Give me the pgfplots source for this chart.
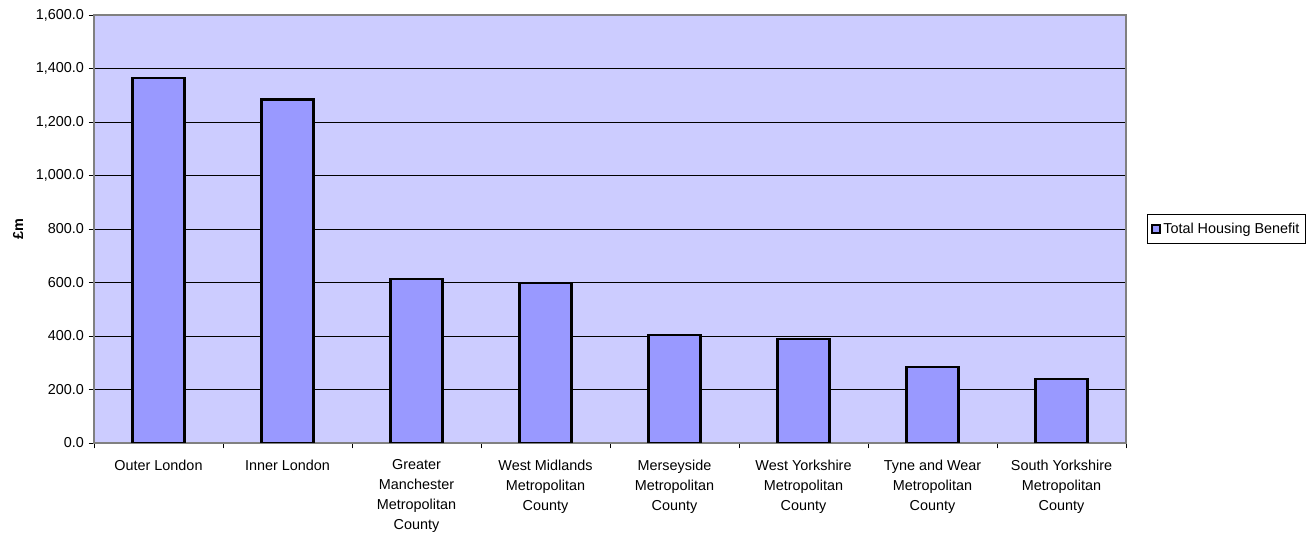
\documentclass[border=0pt]{standalone}
\usepackage{fontspec}
\setmainfont{Liberation Sans}
\usepackage{pgfplots}
\pgfplotsset{compat=1.18}
\definecolor{plotbg}{HTML}{CCCCFF}
\definecolor{barcol}{HTML}{9999FF}
\definecolor{bordergrey}{HTML}{808080}
\begin{document}
\begin{tikzpicture}
\path[use as bounding box] (-70.5pt,-68.25pt) rectangle (909.75pt,332.25pt);
\begin{axis}[
  at={(0pt,0pt)}, anchor=south west,
  scale only axis,
  width=774pt, height=321pt,
  xmin=-0.5, xmax=7.5,
  ymin=0, ymax=1600,
  ytick={0,200,...,1600},
  xtick={0,...,7},
  xticklabels={Outer London, Inner London, {Greater\\Manchester\\Metropolitan\\County}, {West Midlands\\Metropolitan\\County}, {Merseyside\\Metropolitan\\County}, {West Yorkshire\\Metropolitan\\County}, {Tyne and Wear\\Metropolitan\\County}, {South Yorkshire\\Metropolitan\\County}},
  minor xtick={-0.5,0.5,...,7.5},
  xtick pos=bottom, ytick pos=left,
  major x tick style={draw=none},
  minor x tick style={draw=black, line width=0.6pt},
  y tick style={draw=black, line width=0.6pt},
  tick align=outside,
  major tick length=4pt,
  minor tick length=4pt,
  ymajorgrids,
  major grid style={black, line width=0.6pt},
  axis background/.style={fill=plotbg},
  axis line style={bordergrey, line width=1.5pt},
  /pgf/number format/assume math mode=true,
  yticklabel style={font=\fontsize{10.8}{13}\selectfont,
    /pgf/number format/fixed, /pgf/number format/fixed zerofill,
    /pgf/number format/precision=1, /pgf/number format/1000 sep={,}},
  xticklabel style={font=\fontsize{10.8}{15}\selectfont, align=center, yshift=-5pt},
  ylabel={\textbf{£m}},
  ylabel style={at={(axis description cs:-0.0735,0.5)}, anchor=center, font=\fontsize{10.8}{13}\selectfont},
  legend style={at={(axis description cs:1.0204,0.5)}, anchor=west, draw=black, line width=0.6pt,
    font=\fontsize{10.8}{13}\selectfont, inner xsep=2.5pt, inner ysep=4pt},
  legend cell align=left,
  legend image code/.code={\draw[#1, line width=1.4pt] (0.5pt,-3pt) rectangle (6.5pt,3pt);},
]
\addplot[ybar, bar width=39pt, fill=barcol, draw=black, line width=1.6pt]
  coordinates {(0,1363) (1,1284) (2,614) (3,598) (4,404) (5,390) (6,283) (7,240)};
\addlegendentry{Total Housing Benefit}
\end{axis}
\end{tikzpicture}
\end{document}
